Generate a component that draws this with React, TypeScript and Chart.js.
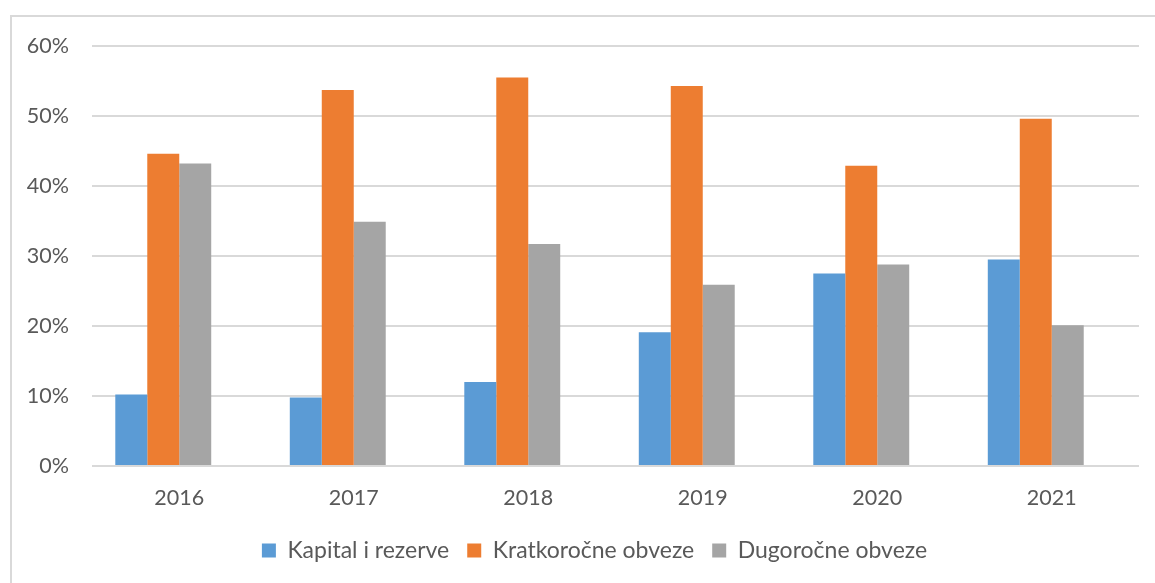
import React, { useEffect, useRef } from "react";
import { Chart, registerables } from "chart.js";

Chart.register(...registerables);

const years = ["2016", "2017", "2018", "2019", "2020", "2021"];
const kapital = [10.2, 9.8, 12.0, 19.1, 27.5, 29.5];
const kratkorocne = [44.6, 53.7, 55.5, 54.3, 42.9, 49.6];
const dugorocne = [43.2, 34.9, 31.7, 25.9, 28.8, 20.1];
// empty fourth series slot in the original clustered layout (no values)
const emptySeries = [null, null, null, null, null, null];
const seriesNames = ["Kapital i rezerve", "Kratkoročne obveze", "Dugoročne obveze"];
const yTicks = [0, 10, 20, 30, 40, 50, 60];

const FONT = "Lato, 'Open Sans', sans-serif";
const TEXT = "#595959";

const shiftLegend = {
  id: "shiftLegend",
  afterLayout(chart: any) {
    const l = chart.legend;
    if (l) {
      l.left += 15;
      l.right += 15;
    }
  },
};

export default function App() {
  const ref = useRef<HTMLCanvasElement | null>(null);
  useEffect(() => {
    if (!ref.current) return;
    const chart = new Chart(ref.current, {
      type: "bar",
      data: {
        labels: years,
        datasets: [
          { label: seriesNames[0], data: kapital, backgroundColor: "#5B9BD5" },
          { label: seriesNames[1], data: kratkorocne, backgroundColor: "#ED7D31" },
          { label: seriesNames[2], data: dugorocne, backgroundColor: "#A5A5A5" },
          { label: "", data: emptySeries as any, backgroundColor: "rgba(0,0,0,0)" },
        ],
      },
      plugins: [shiftLegend],
      options: {
        animation: false,
        responsive: false,
        maintainAspectRatio: false,
        layout: { padding: { left: 20, right: 16, top: 46, bottom: 11 } },
        datasets: {
          bar: { barPercentage: 1, categoryPercentage: 0.733, borderWidth: 0 },
        },
        plugins: {
          tooltip: { enabled: false },
          legend: {
            position: "bottom",
            labels: {
              boxWidth: 14,
              boxHeight: 14,
              padding: 18,
              color: TEXT,
              font: { family: FONT, size: 23 },
              filter: (item: any) => item.text !== "",
            },
          },
        },
        scales: {
          x: {
            grid: { display: false },
            border: { display: false },
            ticks: { color: TEXT, font: { family: FONT, size: 21.5 }, padding: 11 },
            afterFit: (s: any) => { s.height = 55; },
          },
          y: {
            min: 0,
            max: 60,
            afterBuildTicks: (s: any) => { s.ticks = yTicks.map((v) => ({ value: v })); },
            grid: { color: "#D9D9D9", lineWidth: 2, drawTicks: false },
            border: { display: false },
            ticks: {
              color: TEXT,
              font: { family: FONT, size: 21.5 },
              padding: 23,
              callback: (v: any) => `${v}%`,
            },
            afterFit: (s: any) => { s.width = 72; },
          },
        },
      },
    });
    return () => chart.destroy();
  }, []);

  return (
    <div style={{ position: "fixed", left: 0, top: 0, width: 1155, height: 583, overflow: "hidden", background: "#fff" }}>
      <div
        style={{
          position: "absolute",
          left: 10,
          top: 15,
          width: 1200,
          height: 700,
          borderLeft: "2px solid #D9D9D9",
          borderTop: "2px solid #D9D9D9",
        }}
      />
      <canvas ref={ref} width={1155} height={583} style={{ position: "absolute", left: 0, top: 0 }} />
    </div>
  );
}
